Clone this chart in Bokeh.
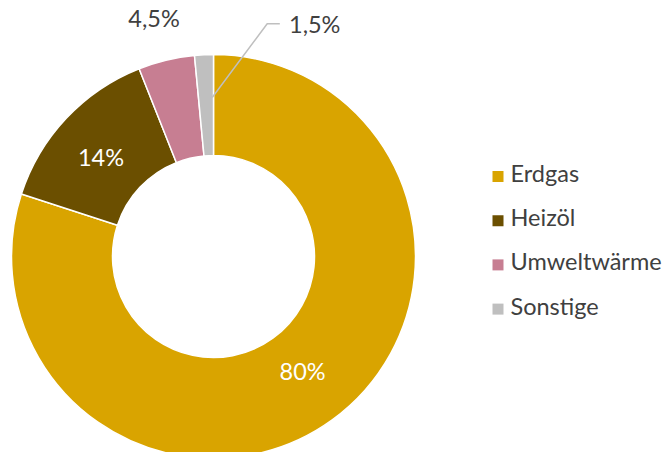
import numpy as np
from bokeh.plotting import figure
from bokeh.models import Range1d, ColumnDataSource
from bokeh.core.properties import value
from bokeh.embed import file_html
from bokeh.resources import INLINE

categories = ["Erdgas", "Heizöl", "Umweltwärme", "Sonstige"]
shares = [80, 14, 4.5, 1.5]
labels = ["80%", "14%", "4,5%", "1,5%"]
colors = ["#D9A400", "#6B4F00", "#C77E92", "#BFBFBF"]

FONT = value("Lato")
FS = "23.5px"
SHIFT = 1.5  # middle-baseline correction (text renders slightly low)
W, H = 665, 452
p = figure(width=W, height=H, x_range=Range1d(0, W), y_range=Range1d(0, H),
           output_backend="svg", toolbar_location=None, min_border=0)
p.axis.visible = False
p.grid.visible = False
p.outline_line_color = None
p.background_fill_color = "white"

cx, cy = 213, H - 256
r_out, r_in = 202, 101

sh = np.array(shares, dtype=float)
cum = np.concatenate([[0], np.cumsum(sh)[:-1]])
start = np.pi / 2 - 2 * np.pi * cum / sh.sum()
end = start - 2 * np.pi * sh / sh.sum()
mid = (start + end) / 2

src = ColumnDataSource(dict(start=start, end=end, color=colors, cat=categories))
p.annular_wedge(x=cx, y=cy, inner_radius=r_in, outer_radius=r_out,
                start_angle="start", end_angle="end", direction="clock",
                fill_color="color", line_color="white", line_width=1.5, source=src)

# label placement: (radius, angle tweak in degrees, colour)
lab_style = [(146, 1.6, "white"), (149.5, 2.0, "white"), (244, 0.6, "#404040")]
for i, (rl, da, col) in enumerate(lab_style):
    a = mid[i] + np.deg2rad(da)
    p.text(x=[cx + rl * np.cos(a)], y=[cy + rl * np.sin(a) + SHIFT], text=[labels[i]],
           text_color=col, text_font=FONT, text_font_size=FS,
           text_align="center", text_baseline="middle")

# 1,5% with leader line
p.line(x=[cx - 1.3, cx + 53.7, cx + 66.3], y=[cy + 159, cy + 232.7, cy + 232.7],
       line_color="#BFBFBF", line_width=1.5)
p.text(x=[cx + 75.5], y=[cy + 231 + SHIFT], text=[labels[3]], text_color="#404040",
       text_font=FONT, text_font_size=FS, text_align="left", text_baseline="middle")

# legend
leg_y0 = H - 176
leg_dy = 44.2
ys = np.array([leg_y0 - i * leg_dy for i in range(len(categories))])
p.scatter(x=[497.5] * len(categories), y=ys, marker="square", size=11,
          fill_color=colors, line_color=None)
p.text(x=[510] * len(categories), y=ys + 2 + SHIFT, text=categories, text_color="#404040",
       text_font=FONT, text_font_size=FS, text_align="left", text_baseline="middle")

open("out.html", "w").write(file_html(p, INLINE))
